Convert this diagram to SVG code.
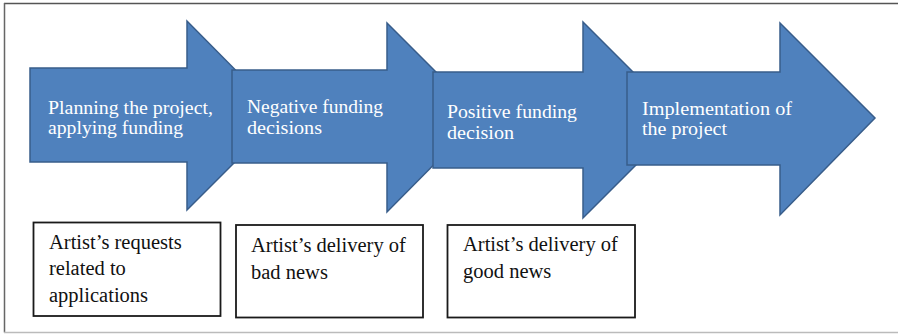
<svg xmlns="http://www.w3.org/2000/svg" width="898" height="335" viewBox="0 0 898 335">
  <style>
    .arrow { fill: #4F81BD; stroke: #385D8A; stroke-width: 1.5; stroke-linejoin: miter; }
    .atext { font-family: "Liberation Serif", "DejaVu Serif", serif; font-size: 19px; fill: #ffffff; }
    .box { fill: #ffffff; stroke: #1a1a1a; stroke-width: 1.8; }
    .btext { font-family: "Liberation Serif", "Times New Roman", serif; font-size: 20.5px; fill: #111111; }
  </style>
  <rect x="0" y="0" width="898" height="335" fill="#ffffff"/>
  <g id="frame">
    <line x1="4" y1="3.5" x2="898" y2="3.5" stroke="#555555" stroke-width="1.5"/>
    <line x1="4.5" y1="3" x2="4.5" y2="332.5" stroke="#666666" stroke-width="1.5"/>
    <line x1="4" y1="332.5" x2="898" y2="332.5" stroke="#bbbbbb" stroke-width="1.5"/>
  </g>
  <g id="connectors"></g>
  <g id="arrow1">
    <polygon class="arrow" points="30,68 187,68 187,21 281,116 187,210 187,162 30,162"/>
    <text class="atext" x="48" y="114" textLength="165" lengthAdjust="spacingAndGlyphs">Planning the project,</text>
    <text class="atext" x="48" y="134" textLength="135" lengthAdjust="spacingAndGlyphs">applying funding</text>
  </g>
  <g id="arrow2">
    <polygon class="arrow" points="232,70 387,70 387,23 481,117 387,212 387,163 232,163"/>
    <text class="atext" x="247" y="113" textLength="136" lengthAdjust="spacingAndGlyphs">Negative funding</text>
    <text class="atext" x="247" y="134" textLength="75" lengthAdjust="spacingAndGlyphs">decisions</text>
  </g>
  <g id="arrow3">
    <polygon class="arrow" points="433,72 583,72 583,22 681,120 583,218 583,168 433,168"/>
    <text class="atext" x="447" y="118" textLength="130" lengthAdjust="spacingAndGlyphs">Positive funding</text>
    <text class="atext" x="447" y="139" textLength="67" lengthAdjust="spacingAndGlyphs">decision</text>
  </g>
  <g id="arrow4">
    <polygon class="arrow" points="627,72 780,72 780,23 875,118 780,215 780,165 627,165"/>
    <text class="atext" x="642" y="115" textLength="150" lengthAdjust="spacingAndGlyphs">Implementation of</text>
    <text class="atext" x="642" y="135" textLength="85" lengthAdjust="spacingAndGlyphs">the project</text>
  </g>
  <g id="box1">
    <rect class="box" x="33.5" y="222.5" width="187" height="93.5"/>
    <text class="btext" x="49" y="248.5">Artist’s requests</text>
    <text class="btext" x="49" y="275">related to</text>
    <text class="btext" x="49" y="301.5">applications</text>
  </g>
  <g id="box2">
    <rect class="box" x="236" y="225" width="187" height="92.5"/>
    <text class="btext" x="251" y="252">Artist’s delivery of</text>
    <text class="btext" x="251" y="279">bad news</text>
  </g>
  <g id="box3">
    <rect class="box" x="447.5" y="225" width="187.5" height="92.5"/>
    <text class="btext" x="463" y="251">Artist’s delivery of</text>
    <text class="btext" x="463" y="277.5">good news</text>
  </g>
</svg>
